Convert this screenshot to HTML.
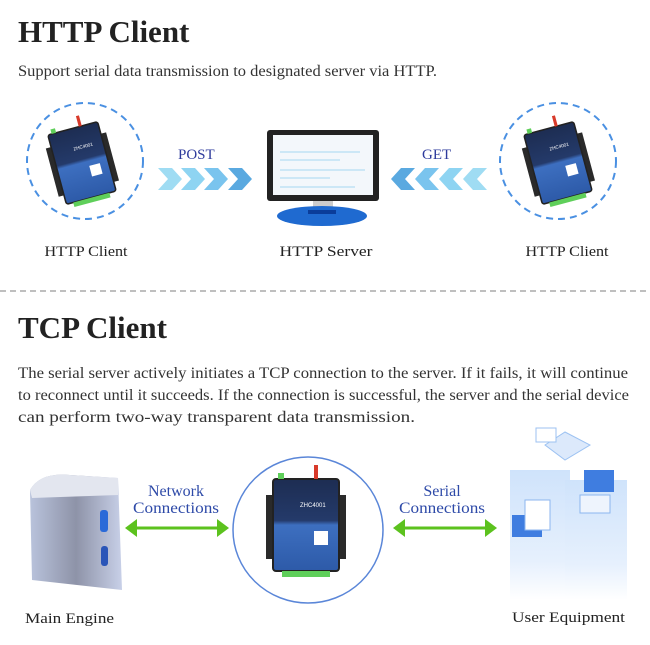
<!DOCTYPE html>
<html><head><meta charset="utf-8"><style>
html,body{margin:0;padding:0;background:#fff;}
svg{display:block;font-family:"Liberation Serif",serif;}
</style></head><body>
<svg width="650" height="645" viewBox="0 0 650 645" xmlns="http://www.w3.org/2000/svg">
<defs>
<linearGradient id="dev" x1="0" y1="0" x2="0" y2="1"><stop offset="0" stop-color="#1d2d52"/><stop offset="0.45" stop-color="#243a6a"/><stop offset="0.5" stop-color="#3d6fc0"/><stop offset="1" stop-color="#2d5aa8"/></linearGradient>
<linearGradient id="eng" x1="0" y1="0" x2="1" y2="0"><stop offset="0" stop-color="#b9c3dc"/><stop offset="0.5" stop-color="#8e93a8"/><stop offset="1" stop-color="#c8d0e8"/></linearGradient>
<linearGradient id="ue" x1="0" y1="0" x2="0" y2="1"><stop offset="0" stop-color="#cfe3fb"/><stop offset="0.7" stop-color="#e6f0fd"/><stop offset="1" stop-color="#ffffff"/></linearGradient>
<g id="device">
<rect x="-40" y="-30" width="8" height="64" fill="#2a2a2a"/>
<rect x="32" y="-30" width="8" height="64" fill="#2a2a2a"/>
<rect x="-33" y="-46" width="66" height="92" rx="3" fill="url(#dev)" stroke="#222" stroke-width="2"/>
<rect x="-24" y="46" width="48" height="6" fill="#5fcf5a"/>
<rect x="-28" y="-52" width="6" height="6" fill="#5fcf5a"/>
<rect x="8" y="-60" width="4" height="14" fill="#d83a2a"/>
<rect x="8" y="6" width="14" height="14" fill="#fff"/>
<text x="-6" y="-18" font-size="6" fill="#fff" font-family="Liberation Sans,sans-serif">ZHC4001</text>
</g>
<g id="chev"><polygon points="0,0 14,0 24,11 14,22 0,22 10,11"/></g>
</defs>

<text x="18" y="42" font-size="31" font-weight="bold" fill="#222">HTTP Client</text>
<text x="18" y="76" font-size="15.5" fill="#333" textLength="419" lengthAdjust="spacingAndGlyphs">Support serial data transmission to designated server via HTTP.</text>

<circle cx="85" cy="161" r="58" fill="none" stroke="#4a90e2" stroke-width="2" stroke-dasharray="7,5"/>
<g transform="translate(82,163) rotate(-15) scale(0.78)"><use href="#device"/></g>
<circle cx="558" cy="161" r="58" fill="none" stroke="#4a90e2" stroke-width="2" stroke-dasharray="7,5"/>
<g transform="translate(558,163) rotate(-15) scale(0.78)"><use href="#device"/></g>

<text x="178" y="159" font-size="15" fill="#2e3b9c">POST</text>
<use href="#chev" x="158" y="168" fill="#9fdcf3"/><use href="#chev" x="181" y="168" fill="#8ed4f2"/>
<use href="#chev" x="204" y="168" fill="#7ac4ee"/>
<use href="#chev" x="228" y="168" fill="#5aa9e0"/>

<text x="422" y="159" font-size="15" fill="#2e3b9c">GET</text>
<g transform="translate(877,0) scale(-1,1)">
<use href="#chev" x="390" y="168" fill="#9fdcf3"/><use href="#chev" x="414" y="168" fill="#8ed4f2"/>
<use href="#chev" x="438" y="168" fill="#7ac4ee"/><use href="#chev" x="462" y="168" fill="#5aa9e0"/>
</g>

<rect x="267" y="130" width="112" height="71" rx="3" fill="#222"/>
<rect x="273" y="135" width="100" height="60" fill="#f3f7fb"/>
<g stroke="#bfe2f5" stroke-width="1.5">
<line x1="280" y1="152" x2="360" y2="152"/><line x1="280" y1="160" x2="340" y2="160"/><line x1="280" y1="170" x2="365" y2="170"/><line x1="280" y1="178" x2="330" y2="178"/><line x1="280" y1="187" x2="355" y2="187"/></g>
<rect x="313" y="201" width="20" height="8" fill="#ccc"/>
<ellipse cx="322" cy="216" rx="45" ry="10" fill="#1f6ad0"/>
<rect x="308" y="210" width="28" height="4" fill="#0a3d9a"/>

<g font-size="15" fill="#222" text-anchor="middle">
<text x="86" y="256" textLength="83" lengthAdjust="spacingAndGlyphs">HTTP Client</text><text x="326" y="256" textLength="93" lengthAdjust="spacingAndGlyphs">HTTP Server</text><text x="567" y="256" textLength="83" lengthAdjust="spacingAndGlyphs">HTTP Client</text></g>

<line x1="0" y1="291" x2="650" y2="291" stroke="#aaa" stroke-width="1.5" stroke-dasharray="6,4"/>

<text x="18" y="338" font-size="31" font-weight="bold" fill="#222">TCP Client</text>
<g font-size="15.5" fill="#333" lengthAdjust="spacingAndGlyphs">
<text x="18" y="378" textLength="610" lengthAdjust="spacingAndGlyphs">The serial server actively initiates a TCP connection to the server. If it fails, it will continue</text>
<text x="18" y="400" textLength="611" lengthAdjust="spacingAndGlyphs">to reconnect until it succeeds. If the connection is successful, the server and the serial device</text>
<text x="18" y="422" textLength="397" lengthAdjust="spacingAndGlyphs">can perform two-way transparent data transmission.</text></g>

<path d="M30 490 Q40 472 70 475 L118 478 L122 590 L32 580 Z" fill="url(#eng)"/>
<path d="M30 490 Q40 472 70 475 L118 478 L118 495 L32 498 Z" fill="#e3e6ef"/>
<rect x="100" y="510" width="8" height="22" rx="3" fill="#2a6ad8"/>
<rect x="101" y="546" width="7" height="20" rx="3" fill="#2a55b8"/>

<line x1="132" y1="528" x2="222" y2="528" stroke="#5cc21e" stroke-width="3"/>
<polygon points="125,528 137,519 137,537" fill="#5cc21e"/><polygon points="229,528 217,519 217,537" fill="#5cc21e"/>
<g font-size="16" fill="#2e4aa8" text-anchor="middle">
<text x="176" y="496">Network</text><text x="176" y="513" textLength="86" lengthAdjust="spacingAndGlyphs">Connections</text>
<text x="442" y="496">Serial</text><text x="442" y="513" textLength="86" lengthAdjust="spacingAndGlyphs">Connections</text></g>
<line x1="400" y1="528" x2="490" y2="528" stroke="#5cc21e" stroke-width="3"/>
<polygon points="393,528 405,519 405,537" fill="#5cc21e"/><polygon points="497,528 485,519 485,537" fill="#5cc21e"/>

<ellipse cx="308" cy="530" rx="75" ry="73" fill="none" stroke="#5a86d8" stroke-width="1.5"/>
<g transform="translate(306,525)"><use href="#device"/></g>

<rect x="510" y="470" width="60" height="130" fill="url(#ue)"/>
<rect x="565" y="480" width="62" height="120" fill="url(#ue)"/>
<polygon points="545,445 565,432 590,445 565,460" fill="#dce9fb" stroke="#9cc2f2"/>
<rect x="536" y="428" width="20" height="14" fill="#fff" stroke="#9cc2f2"/>
<rect x="584" y="470" width="30" height="22" fill="#3f7de0"/>
<rect x="512" y="515" width="30" height="22" fill="#3f7de0"/>
<rect x="525" y="500" width="25" height="30" fill="#fff" stroke="#8cb6ef"/>
<rect x="580" y="495" width="30" height="18" fill="#eef4fd" stroke="#8cb6ef"/>

<g font-size="15" fill="#222"><text x="25" y="623" textLength="89" lengthAdjust="spacingAndGlyphs">Main Engine</text><text x="512" y="622" textLength="113" lengthAdjust="spacingAndGlyphs">User Equipment</text></g>
</svg>
</body></html>
